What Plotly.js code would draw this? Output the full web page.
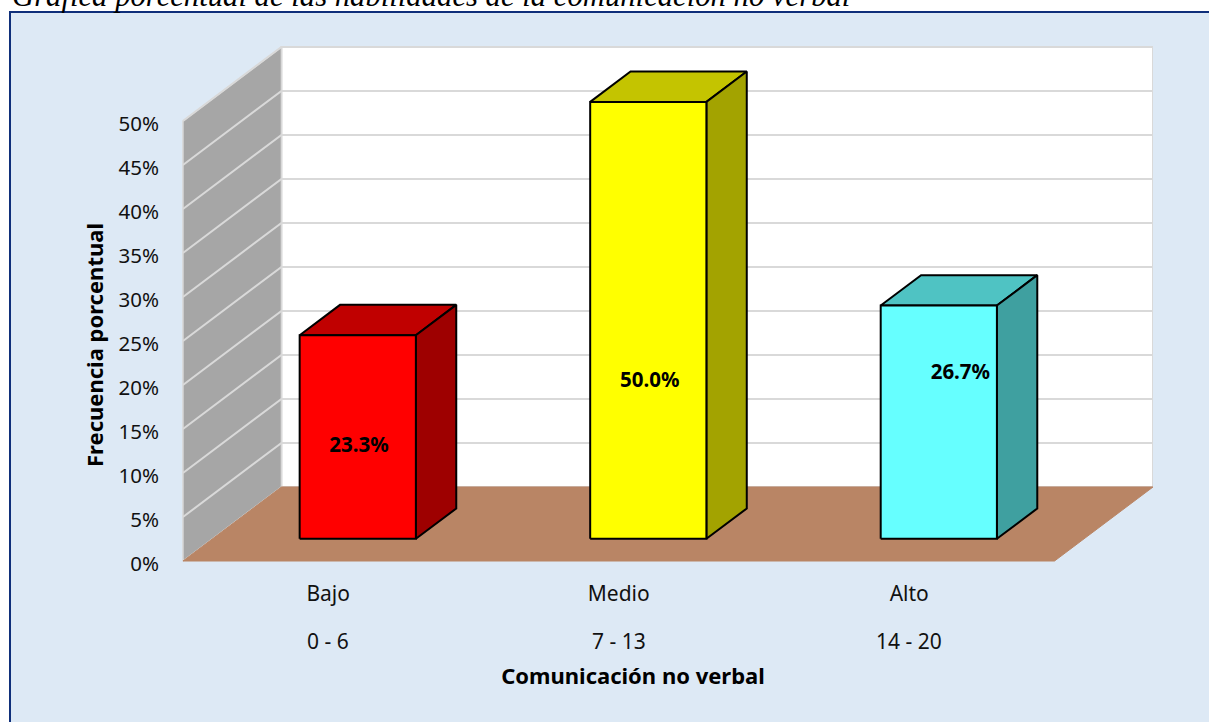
<!DOCTYPE html>
<html>
<head>
<meta charset="utf-8">
<script src="https://cdn.plot.ly/plotly-3.0.1.min.js"></script>
<style>html,body{margin:0;padding:0;background:#fff;overflow:hidden}#chart{width:1209px;height:722px}</style>
</head>
<body>
<div id="chart"></div>
<script>
const categories = ['Bajo', 'Medio', 'Alto'];
const ranges = ['0 - 6', '7 - 13', '14 - 20'];
const values = [23.3, 50.0, 26.7];
const valueLabels = ['23.3%', '50.0%', '26.7%'];
const tickValues = [0, 5, 10, 15, 20, 25, 30, 35, 40, 45, 50];
const tickLabels = ['0%', '5%', '10%', '15%', '20%', '25%', '30%', '35%', '40%', '45%', '50%'];
const frontColors = ['#ff0000', '#ffff00', '#66ffff'];
const topColors = ['#c00000', '#c4c400', '#4fc3c3'];
const sideColors = ['#9e0000', '#a3a300', '#3fa0a0'];
const labelX = [0.106, 1.107, 2.176];
const labelY = [12.93, 20.4, 21.3];

// Oblique projection: depth d in 0..1 moves a point back along the floor.
const depthX = 0.339, depthY = 8.41;
const barHalf = 0.2, barD0 = 0.3, barD1 = 0.71, barScale = 0.993;
const xMin = -0.5, xMax = 2.5;
const P = (x, y, d) => [x + d * depthX, y + d * depthY];

const polys = [];
function poly(points, fill, lineColor, lineWidth) {
  polys.push({
    type: 'scatter', mode: 'lines', fill: 'toself', fillcolor: fill,
    x: points.map(p => p[0]).concat(points[0][0]),
    y: points.map(p => p[1]).concat(points[0][1]),
    line: {color: lineColor, width: lineWidth},
    hoverinfo: 'skip', showlegend: false
  });
}
function line(points, color, width) {
  polys.push({
    type: 'scatter', mode: 'lines', x: points.map(p => p[0]), y: points.map(p => p[1]),
    line: {color: color, width: width}, hoverinfo: 'skip', showlegend: false
  });
}
const topV = tickValues[tickValues.length - 1];
// walls and floor
poly([P(xMin, 0, 1), P(xMax, 0, 1), P(xMax, topV, 1), P(xMin, topV, 1)], '#ffffff', '#d9d9d9', 2);
poly([P(xMin, 0, 0), P(xMin, 0, 1), P(xMin, topV, 1), P(xMin, topV, 0)], '#a6a6a6', '#d9d9d9', 1.5);
tickValues.forEach(v => {
  if (v === 0) return;
  line([P(xMin, v, 0), P(xMin, v, 1), P(xMax, v, 1)], '#d9d9d9', 2);
});
poly([P(xMin, 0, 0), P(xMax, 0, 0), P(xMax, 0, 1), P(xMin, 0, 1)], '#b98565', '#b98565', 1);
// bars
values.forEach((v, i) => {
  const h = v * barScale, l = i - barHalf, r = i + barHalf;
  poly([P(l, h, barD0), P(r, h, barD0), P(r, h, barD1), P(l, h, barD1)], topColors[i], '#000000', 2);
  poly([P(r, 0, barD0), P(r, 0, barD1), P(r, h, barD1), P(r, h, barD0)], sideColors[i], '#000000', 2);
  poly([P(l, 0, barD0), P(r, 0, barD0), P(r, h, barD0), P(l, h, barD0)], frontColors[i], '#000000', 2);
});
polys.push({
  type: 'scatter', mode: 'text', x: labelX, y: labelY, text: valueLabels,
  textposition: 'middle center',
  textfont: {family: 'Noto Sans', size: 20.5, color: '#000000', weight: 700},
  hoverinfo: 'skip', showlegend: false
});

// Plot box is extended past the floor so that the axis titles sit where the reference has them.
const plotL = 113, plotR = 1153, plotT = 46, plotB = 644, zeroY = 561;
const pxX = 290.67, pxY = 8.8;
const plotH = plotB - plotT, plotW = plotR - plotL;
const layout = {
  width: 1209, height: 722, showlegend: false, hovermode: false,
  paper_bgcolor: '#ffffff', plot_bgcolor: 'rgba(0,0,0,0)',
  margin: {l: plotL, r: 1209 - plotR, t: plotT, b: 722 - plotB, pad: 0},
  font: {family: 'Noto Sans', size: 21, color: '#111111'},
  xaxis: {
    range: [xMin - (183 - plotL) / pxX, xMax + depthX], showgrid: false, zeroline: false, showline: false,
    anchor: 'free', position: (plotB - zeroY) / plotH,
    tickmode: 'array', tickvals: [0, 1, 2], ticktext: categories,
    ticks: 'outside', ticklen: 14, tickcolor: 'rgba(0,0,0,0)',
    tickfont: {family: 'Noto Sans', size: 21, color: '#111111'},
    title: {text: '<b>Comunicación no verbal</b>', standoff: 62, font: {family: 'Noto Sans', size: 22, color: '#000000'}},
    automargin: false
  },
  yaxis: {
    range: [-(plotB - zeroY) / pxY, (zeroY - plotT) / pxY], showgrid: false, zeroline: false, showline: false,
    anchor: 'free', position: (159 - plotL) / plotW,
    tickmode: 'array', tickvals: tickValues, ticktext: tickLabels, ticklabelshift: 3,
    ticks: '', tickfont: {family: 'Noto Sans', size: 20.5, color: '#111111'},
    title: {text: '<b>Frecuencia porcentual</b>', standoff: 7, font: {family: 'Noto Sans', size: 22, color: '#000000'}},
    automargin: false
  },
  shapes: [{
    type: 'rect', xref: 'paper', yref: 'paper', layer: 'below',
    x0: (10 - plotL) / plotW, x1: (1230 - plotL) / plotW,
    y0: -(740 - plotB) / plotH, y1: 1 + (plotT - 12) / plotH,
    fillcolor: '#dde9f5', line: {color: '#0f2f7a', width: 2}
  }],
  annotations: [{
    text: '<i>Gráfica porcentual de las habilidades de la comunicación no verbal</i>',
    xref: 'paper', yref: 'paper', x: (10 - plotL) / plotW, y: 1 + (plotT - 15) / plotH,
    xanchor: 'left', yanchor: 'bottom', showarrow: false, align: 'left',
    font: {family: 'Liberation Serif', size: 30.7, color: '#000000'}
  }].concat(ranges.map((r, i) => ({
    text: r, xref: 'x', yref: 'paper', x: i, y: (plotB - 641) / plotH, yanchor: 'middle', xanchor: 'center',
    showarrow: false,
    font: {family: 'Noto Sans', size: 21, color: '#111111'}
  })))
};
Plotly.newPlot('chart', polys, layout, {displayModeBar: false, staticPlot: true});
</script>
</body>
</html>
